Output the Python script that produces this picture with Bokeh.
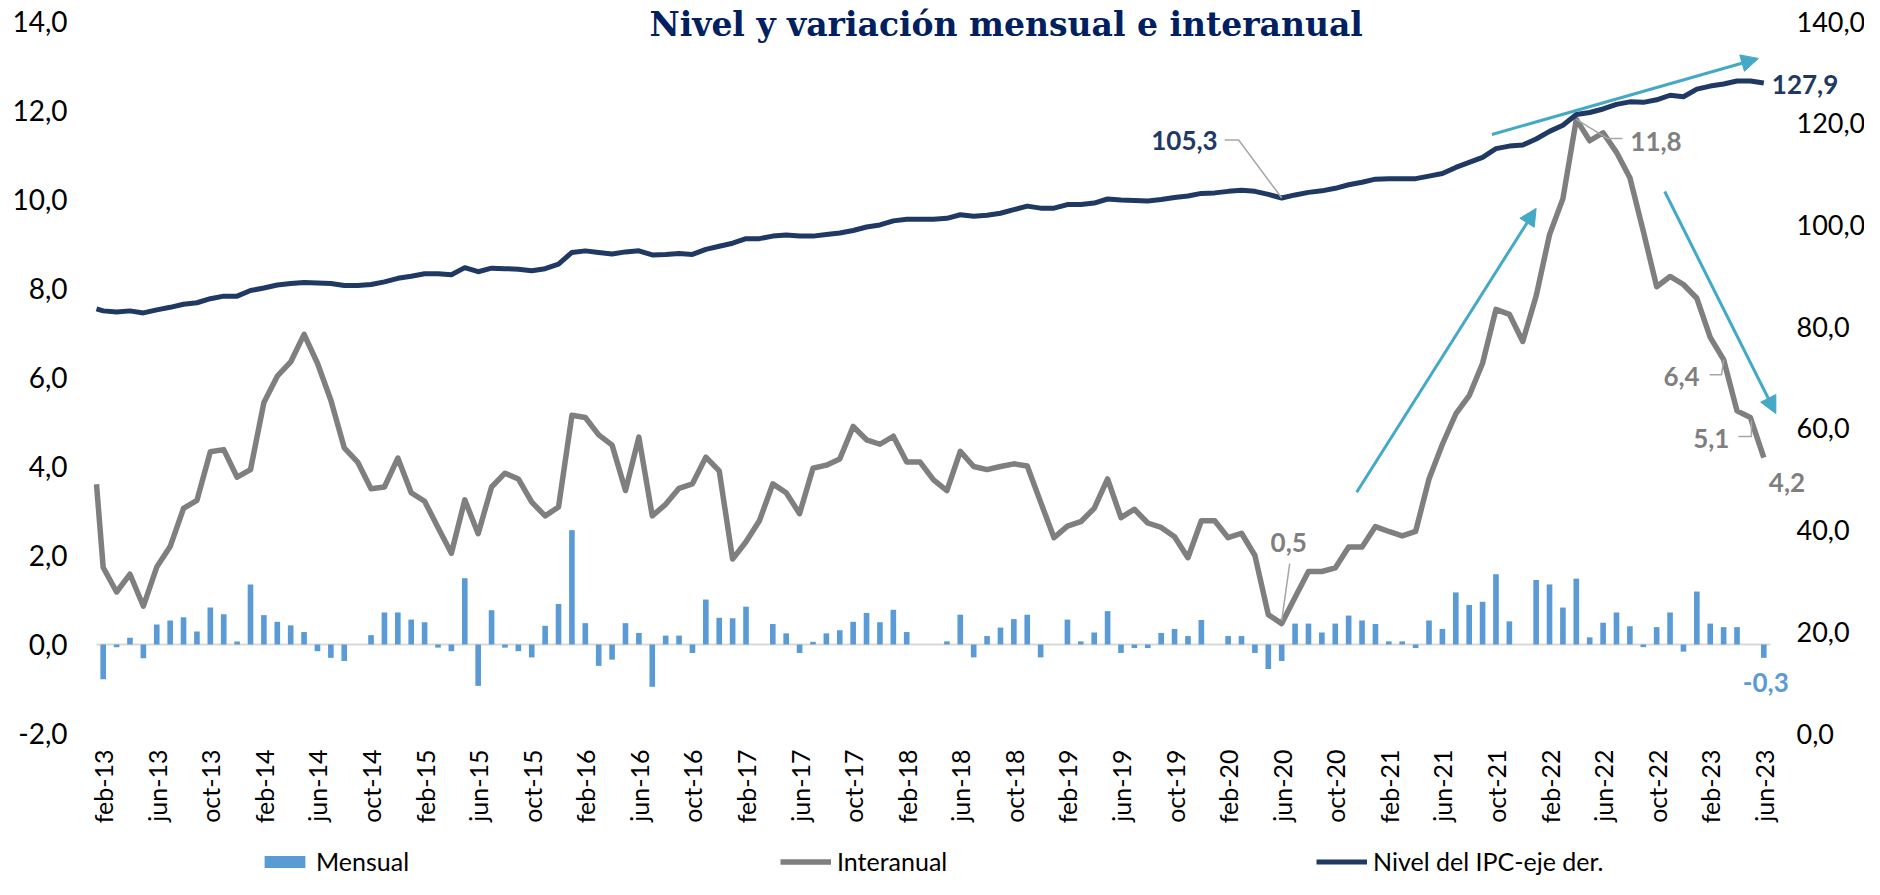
import numpy as np
from bokeh.plotting import figure
from bokeh.models import (Range1d, LinearAxis, FixedTicker, Label, Arrow,
                          NormalHead, Legend, LegendItem, ColumnDataSource)
from bokeh.embed import file_html
from bokeh.resources import INLINE

# ---------------- data ----------------
TITLE = "Nivel y variación mensual e interanual"
MESES = ["ene", "feb", "mar", "abr", "may", "jun", "jul", "ago", "sep", "oct", "nov", "dic"]
# feb-13 ... jun-23
meses = [f"{MESES[(m + 1) % 12]}-{13 + (m + 1) // 12}" for m in range(125)]

mensual = [
    -0.78, -0.06, 0.15, -0.31, 0.45, 0.54, 0.61, 0.29, 0.83, 0.68, 0.07, 1.35,
    0.66, 0.51, 0.43, 0.28, -0.15, -0.30, -0.37, 0.00, 0.21, 0.72, 0.72, 0.56,
    0.50, -0.07, -0.15, 1.49, -0.93, 0.77, -0.07, -0.15, -0.29, 0.42, 0.91, 2.57,
    0.48, -0.48, -0.34, 0.48, 0.26, -0.95, 0.20, 0.20, -0.19, 1.01, 0.60, 0.59,
    0.85, 0.00, 0.46, 0.25, -0.19, 0.06, 0.25, 0.32, 0.51, 0.71, 0.50, 0.78,
    0.28, 0.00, 0.00, 0.07, 0.67, -0.29, 0.19, 0.38, 0.57, 0.67, -0.29, 0.00,
    0.56, 0.07, 0.27, 0.75, -0.19, -0.08, -0.08, 0.26, 0.35, 0.19, 0.55, 0.00,
    0.19, 0.19, -0.19, -0.55, -0.37, 0.47, 0.47, 0.27, 0.47, 0.65, 0.54, 0.46,
    0.07, 0.07, -0.08, 0.54, 0.35, 1.17, 0.89, 0.96, 1.58, 0.52, 0.00, 1.45,
    1.35, 0.83, 1.48, 0.16, 0.49, 0.72, 0.41, -0.06, 0.39, 0.72, -0.16, 1.19,
    0.47, 0.39, 0.39, 0.00, -0.30]

interanual = [
    1.73, 1.18, 1.58, 0.86, 1.74, 2.20, 3.06, 3.24, 4.33, 4.38, 3.76, 3.93,
    5.44, 6.03, 6.35, 6.97, 6.32, 5.49, 4.42, 4.10, 3.50, 3.54, 4.19, 3.41,
    3.22, 2.63, 2.05, 3.25, 2.49, 3.54, 3.85, 3.72, 3.20, 2.89, 3.09, 5.15,
    5.10, 4.71, 4.48, 3.46, 4.66, 2.89, 3.15, 3.51, 3.61, 4.21, 3.90, 1.92,
    2.31, 2.78, 3.61, 3.41, 2.94, 3.96, 4.03, 4.17, 4.90, 4.60, 4.50, 4.68,
    4.10, 4.10, 3.70, 3.46, 4.34, 4.00, 3.93, 4.00, 4.06, 4.01, 3.20, 2.40,
    2.66, 2.76, 3.06, 3.72, 2.85, 3.04, 2.73, 2.63, 2.42, 1.95, 2.78, 2.78,
    2.40, 2.50, 2.00, 0.67, 0.47, 1.06, 1.64, 1.64, 1.72, 2.19, 2.19, 2.65,
    2.54, 2.44, 2.54, 3.72, 4.50, 5.18, 5.59, 6.32, 7.53, 7.42, 6.81, 7.83,
    9.21, 10.02, 11.80, 11.32, 11.50, 11.06, 10.49, 9.29, 8.04, 8.27, 8.09, 7.78,
    6.90, 6.40, 5.25, 5.10, 4.20]

nivel = [
    83.1, 82.9, 83.1, 82.7, 83.3, 83.8, 84.4, 84.7, 85.5, 86.0, 86.0, 87.1,
    87.6, 88.2, 88.5, 88.7, 88.6, 88.5, 88.1, 88.1, 88.3, 88.8, 89.5, 89.9,
    90.4, 90.4, 90.2, 91.6, 90.8, 91.5, 91.4, 91.3, 91.0, 91.4, 92.3, 94.6,
    94.9, 94.6, 94.3, 94.7, 94.9, 94.1, 94.2, 94.4, 94.2, 95.2, 95.8, 96.4,
    97.3, 97.3, 97.8, 98.0, 97.8, 97.8, 98.1, 98.4, 98.9, 99.6, 100.0, 100.8,
    101.1, 101.1, 101.1, 101.3, 102.0, 101.7, 101.9, 102.3, 103.0, 103.7, 103.3, 103.3,
    104.0, 104.0, 104.3, 105.1, 104.9, 104.8, 104.7, 105.0, 105.4, 105.7, 106.2, 106.3,
    106.6, 106.8, 106.6, 106.0, 105.3, 105.9, 106.4, 106.7, 107.2, 107.9, 108.4, 109.0,
    109.1, 109.1, 109.1, 109.6, 110.1, 111.3, 112.3, 113.3, 115.0, 115.5, 115.7, 116.9,
    118.4, 119.6, 121.7, 122.1, 122.8, 123.7, 124.2, 124.1, 124.6, 125.5, 125.2, 126.7,
    127.3, 127.7, 128.3, 128.3, 127.9]

# values where the lines enter the plot area at its left edge
inicio_interanual = 3.6
inicio_nivel = 83.5

left_ticks = [-2, 0, 2, 4, 6, 8, 10, 12, 14]
left_tick_labels = ["-2,0", "0,0", "2,0", "4,0", "6,0", "8,0", "10,0", "12,0", "14,0"]
right_ticks = [0, 20, 40, 60, 80, 100, 120, 140]
right_tick_labels = ["0,0", "20,0", "40,0", "60,0", "80,0", "100,0", "120,0", "140,0"]
x_ticks = list(range(0, 125, 4))          # feb-13, jun-13, oct-13 ...

# trend arrows (x in month index, y in left-axis units)
arrows = [((93.6, 3.42), (107.0, 9.8)),
          ((103.7, 11.46), (123.6, 13.17)),
          ((116.6, 10.18), (124.9, 5.19))]

# ---------------- styles / layout ----------------
BAR_C = "#5B9BD5"
GRAY_C = "#7F7F7F"
NAVY_C = "#203864"
TEAL_C = "#44A9C6"
TITLE_C = "#002060"
FONT = "Lato"

W, H = 1864, 879
PL, PR, PT, PB = 96, 1770, 21, 733       # plot area in canvas pixels
XA = (-0.5, 124.5)
YA = (-2.0, 14.0)
YR = (0.0, 140.0)
PX = (PR - PL) / (XA[1] - XA[0])
PY = (PB - PT) / (YA[1] - YA[0])
PYR = (PB - PT) / (YR[1] - YR[0])
UX, UYL, UYR = 1 / PX, 1 / PY, 1 / PYR

x_range = Range1d(XA[0] - PL / PX, XA[1] + (W - PR) / PX)
y_range = Range1d(YA[0] - (H - PB) / PY, YA[1] + PT / PY)
nivel_range = Range1d(YR[0] - (H - PB) / PYR, YR[1] + PT / PYR)

def fmt(v):
    return f"{v:.1f}".replace(".", ",")

x = list(range(125))
src = ColumnDataSource(dict(x=x, mensual=mensual))
gray_src = ColumnDataSource(dict(x=[XA[0]] + x, y=[inicio_interanual] + interanual))
navy_src = ColumnDataSource(dict(x=[XA[0]] + x, y=[inicio_nivel] + nivel))

p = figure(width=W, height=H, x_range=x_range, y_range=y_range,
           output_backend="svg", toolbar_location=None,
           min_border_left=0, min_border_right=0, min_border_top=0, min_border_bottom=0)
p.extra_y_ranges = {"nivel": nivel_range}
p.outline_line_color = None
p.xgrid.visible = False
p.ygrid.visible = False
p.background_fill_color = "white"
p.border_fill_color = "white"

def style_axis(ax, size, standoff):
    ax.axis_line_color = None
    ax.major_tick_line_color = None
    ax.minor_tick_line_color = None
    ax.major_tick_out = 0
    ax.major_tick_in = 0
    ax.major_label_standoff = standoff
    ax.major_label_text_font = FONT
    ax.major_label_text_font_size = size
    ax.major_label_text_color = "#000000"

ya = p.yaxis[0]
ya.ticker = FixedTicker(ticks=left_ticks)
ya.major_label_overrides = dict(zip(left_ticks, left_tick_labels))
ya.fixed_location = XA[0]
style_axis(ya, "28px", 29)

ra = LinearAxis(y_range_name="nivel", ticker=FixedTicker(ticks=right_ticks))
ra.major_label_overrides = dict(zip(right_ticks, right_tick_labels))
ra.fixed_location = XA[1]
style_axis(ra, "27px", 26)
p.add_layout(ra, "right")

xa = p.xaxis[0]
xa.ticker = FixedTicker(ticks=x_ticks)
xa.major_label_overrides = {i: meses[i] for i in x_ticks}
xa.major_label_orientation = np.pi / 2
xa.fixed_location = YA[0]
style_axis(xa, "25px", 16)

# zero line across the plot area
p.segment(x0=[XA[0]], x1=[XA[1]], y0=[0], y1=[0], line_color="#D9D9D9", line_width=2)

bars = p.vbar(x="x", top="mensual", bottom=0, width=0.42, source=src,
              fill_color=BAR_C, line_color=None)
gray = p.line(x="x", y="y", source=gray_src, line_color=GRAY_C,
              line_width=5.5, line_join="round")
navy = p.line(x="x", y="y", source=navy_src, y_range_name="nivel",
              line_color=NAVY_C, line_width=5, line_join="round")

# arrows
for (xs, ys), (xe, ye) in arrows:
    p.add_layout(Arrow(end=NormalHead(size=17, fill_color=TEAL_C, line_color=TEAL_C),
                       x_start=xs, y_start=ys, x_end=xe, y_end=ye,
                       line_color=TEAL_C, line_width=3))

# title
TITLE_X_PX, TITLE_BASE_PX = 649, 24
p.add_layout(Label(x=XA[0] + (TITLE_X_PX - PL) * UX, y=YA[1] + (PT - TITLE_BASE_PX) * UYL,
                   text=TITLE, text_font="DejaVu Serif",
                   text_font_style="bold", text_font_size="33px", text_color=TITLE_C,
                   text_align="left", text_baseline="alphabetic"))

# data labels
def add_label(i, arr, color, dx, dy, align, rng=None):
    kw = dict(x=i, y=arr[i], x_offset=dx, y_offset=dy, text=fmt(arr[i]),
              text_font=FONT, text_font_style="bold", text_font_size="26px",
              text_color=color, text_align=align, text_baseline="middle")
    if rng:
        kw["y_range_name"] = rng
    p.add_layout(Label(**kw))

def add_leader(i, arr, pts, uy, rng=None):
    xs = [i + dx * UX for dx, dy in pts]
    ys = [arr[i] + dy * uy for dx, dy in pts]
    kw = dict(line_color="#A6A6A6", line_width=1.5)
    if rng:
        kw["y_range_name"] = rng
    p.line(xs, ys, **kw)

add_leader(88, nivel, [(-57, 58), (-43, 58), (0, 0)], UYR, "nivel")
add_label(88, nivel, NAVY_C, -64, 57, "right", "nivel")
add_label(124, nivel, NAVY_C, 8, -1, "left", "nivel")

add_leader(110, interanual, [(0, 0), (31, -19), (46, -19)], UYL)
add_label(110, interanual, GRAY_C, 54, -22, "left")
add_leader(88, interanual, [(8, 60), (0, 3)], UYL)
add_label(88, interanual, GRAY_C, 7, 81, "center")
add_leader(121, interanual, [(-14, -15), (-2, -15), (0, 0)], UYL)
add_label(121, interanual, GRAY_C, -24, -17, "right")
add_leader(123, interanual, [(-12, -19), (1, -19), (1, -3)], UYL)
add_label(123, interanual, GRAY_C, -21, -21, "right")
add_label(124, interanual, GRAY_C, 5, -25, "left")
add_label(124, mensual, BAR_C, 2, -25, "center")

# legend: three entries at their own positions (canvas px from left / bottom)
for label, rend, vx in [("Mensual", bars, 259), ("Interanual", gray, 780),
                        ("Nivel del IPC-eje der.", navy, 1316)]:
    lg = Legend(items=[LegendItem(label=label, renderers=[rend])],
                location=(vx, 3), orientation="horizontal",
                glyph_width=51, glyph_height=15, label_standoff=6,
                padding=0, margin=0, spacing=0, border_line_color=None,
                background_fill_alpha=0, label_text_font=FONT,
                label_text_font_size="25px", label_text_color="#000000")
    p.add_layout(lg)

open("out.html", "w").write(file_html(p, INLINE))
